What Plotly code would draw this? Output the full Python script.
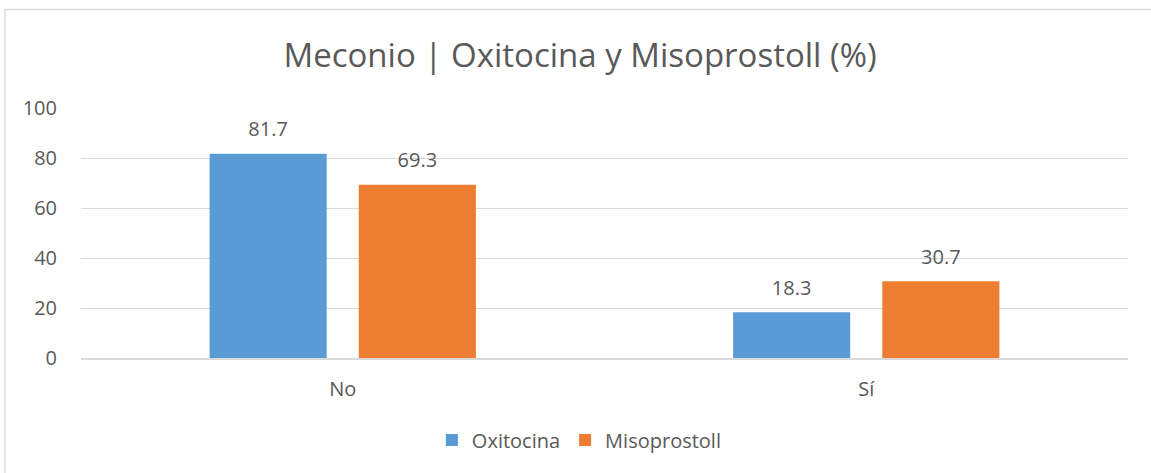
import plotly.graph_objects as go

categorias = ["No", "Sí"]
oxitocina = [81.7, 18.3]
misoprostoll = [69.3, 30.7]
y_ticks = [0, 20, 40, 60, 80, 100]

AZUL = "#5B9BD5"
NARANJA = "#ED7D31"
GRIS_TXT = "#595959"
FUENTE = "Open Sans, sans-serif"


def etiquetas(valores):
    # small blank second line lifts the label a bit above the bar, like Excel
    return [f"<span style='font-size:20px'>{v}</span><br> " for v in valores]


fig = go.Figure()
fig.add_trace(go.Bar(
    name="Oxitocina", x=categorias, y=oxitocina,
    marker=dict(color=AZUL, line=dict(width=0)),
    text=etiquetas(oxitocina), textposition="outside",
    textfont=dict(size=9, color=GRIS_TXT, family=FUENTE),
    cliponaxis=False,
))
fig.add_trace(go.Bar(
    name="Misoprostoll", x=categorias, y=misoprostoll,
    marker=dict(color=NARANJA, line=dict(width=0)),
    text=etiquetas(misoprostoll), textposition="outside",
    textfont=dict(size=9, color=GRIS_TXT, family=FUENTE),
    cliponaxis=False,
))

fig.update_layout(
    width=1151, height=473,
    margin=dict(l=81, r=23, t=108, b=115),
    paper_bgcolor="white", plot_bgcolor="white",
    font=dict(family=FUENTE, size=20, color=GRIS_TXT),
    title=dict(text="Meconio | Oxitocina y Misoprostoll (%)",
               x=0.504, xanchor="center", y=0.883, yanchor="middle",
               font=dict(size=33, color=GRIS_TXT, family=FUENTE)),
    barmode="group", bargap=0.43, bargroupgap=0.215,
    showlegend=True,
    legend=dict(orientation="h", x=0.476, xanchor="center",
                y=-0.328, yanchor="middle",
                font=dict(size=20, color=GRIS_TXT, family=FUENTE),
                bgcolor="rgba(0,0,0,0)", itemclick=False),
)

fig.update_yaxes(
    range=[0, 100], tickvals=y_ticks, showgrid=True,
    gridcolor="#D9D9D9", gridwidth=1.3, zeroline=False,
    showline=False, ticks="outside", ticklen=19, tickcolor="rgba(0,0,0,0)",
    tickfont=dict(size=20, color=GRIS_TXT, family=FUENTE),
)
fig.update_xaxes(
    showline=True, linecolor="#D9D9D9", linewidth=1.5,
    showgrid=False, ticks="outside", ticklen=12, tickcolor="rgba(0,0,0,0)",
    tickfont=dict(size=20, color=GRIS_TXT, family=FUENTE),
)

# chart border like the Excel chart area
fig.add_shape(type="rect", xref="paper", yref="paper",
              x0=-0.0726, x1=1.1, y0=-0.7, y1=1.394,
              line=dict(color="#D9D9D9", width=1.3), fillcolor="rgba(0,0,0,0)",
              layer="below")

fig.write_html("out.html", config={"displayModeBar": False},
               post_script="document.body.style.margin='0';document.body.style.overflow='hidden';")
